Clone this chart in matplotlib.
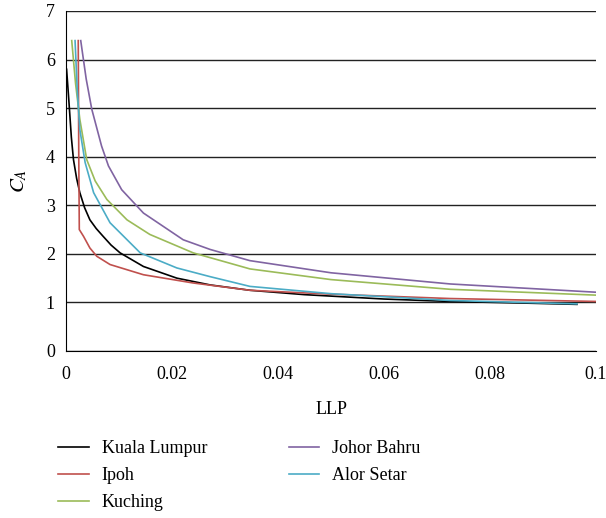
import matplotlib
matplotlib.use("Agg")
import matplotlib.pyplot as plt

plt.rcParams['font.family'] = ['Liberation Serif', 'DejaVu Serif']
plt.rcParams['mathtext.fontset'] = 'stix'

# Data (LLP vs C_A)
kl_x = [0.0001, 0.0005, 0.001, 0.0014, 0.002, 0.0026, 0.0035, 0.0045, 0.0057, 0.007, 0.0085, 0.0102,
        0.0146, 0.0209, 0.0272, 0.0347, 0.045, 0.06, 0.0725, 0.085, 0.0964]
kl_y = [5.8, 5.2, 4.4, 3.94, 3.55, 3.26, 2.95, 2.70, 2.52, 2.36, 2.18, 2.02,
        1.74, 1.50, 1.36, 1.25, 1.16, 1.07, 1.02, 0.99, 0.96]

ipoh_x = [0.0023, 0.0024, 0.0025, 0.0033, 0.0045, 0.0058, 0.0083, 0.0146, 0.024,
          0.0347, 0.05, 0.0725, 0.1]
ipoh_y = [6.39, 4.0, 2.5, 2.36, 2.12, 1.95, 1.78, 1.57, 1.40,
          1.25, 1.17, 1.08, 1.02]

kuching_x = [0.00107, 0.0018, 0.0026, 0.0039, 0.0055, 0.0077, 0.0115, 0.0158, 0.024, 0.0347,
             0.05, 0.0725, 0.1]
kuching_y = [6.39, 5.5, 4.77, 3.94, 3.5, 3.12, 2.70, 2.40, 2.02, 1.69,
             1.47, 1.27, 1.15]

johor_x = [0.00277, 0.0038, 0.00485, 0.0067, 0.008, 0.0105, 0.0146, 0.0221, 0.0272, 0.0347,
           0.05, 0.0725, 0.1]
johor_y = [6.39, 5.6, 4.98, 4.22, 3.81, 3.32, 2.84, 2.29, 2.09, 1.86,
           1.61, 1.38, 1.21]

alor_x = [0.0017, 0.0021, 0.0026, 0.0036, 0.0052, 0.0083, 0.014, 0.0209, 0.0272, 0.0347,
          0.05, 0.0725, 0.0964]
alor_y = [6.39, 5.4, 4.56, 3.88, 3.26, 2.64, 2.02, 1.71, 1.53, 1.33,
          1.18, 1.04, 0.97]

x_ticks = [0, 0.02, 0.04, 0.06, 0.08, 0.1]
x_labels = ['0', '0.02', '0.04', '0.06', '0.08', '0.1']
y_ticks = [0, 1, 2, 3, 4, 5, 6, 7]

fig = plt.figure(figsize=(6.06, 5.18), dpi=100)
ax = fig.add_axes([0.109, 0.3224, 0.8745, 0.6564])

ax.plot(kl_x, kl_y, color='black', lw=1.2, label='Kuala Lumpur')
ax.plot(ipoh_x, ipoh_y, color='#c0504d', lw=1.2, label='Ipoh')
ax.plot(kuching_x, kuching_y, color='#9bbb59', lw=1.2, label='Kuching')
ax.plot(johor_x, johor_y, color='#8064a2', lw=1.2, label='Johor Bahru')
ax.plot(alor_x, alor_y, color='#4bacc6', lw=1.2, label='Alor Setar')

ax.set_xlim(0, 0.1)
ax.set_ylim(0, 7)
ax.set_xticks(x_ticks)
ax.set_xticklabels(x_labels)
ax.set_yticks(y_ticks)
ax.tick_params(axis='x', length=0, labelsize=13, pad=11)
ax.tick_params(axis='y', length=0, labelsize=13, pad=8)
ax.grid(axis='y', color='#222222', lw=1)
ax.set_axisbelow(True)
for s in ['top', 'right']:
    ax.spines[s].set_visible(False)

ax.set_xlabel('LLP', fontsize=13, labelpad=13)
ax.set_ylabel('$C_A$', fontsize=15, labelpad=12)

ax.legend(loc='upper left', bbox_to_anchor=(-0.045, -0.215), ncol=2, frameon=False,
          fontsize=13, handlelength=1.7, handletextpad=0.7, columnspacing=4.5,
          labelspacing=0.55)

plt.savefig('out.png', dpi=100)
